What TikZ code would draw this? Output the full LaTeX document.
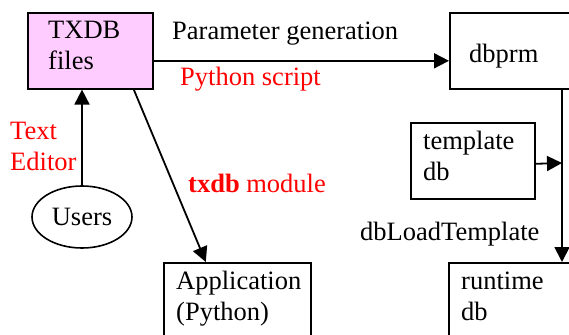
\documentclass[tikz,border=0pt]{standalone}
\usepackage{fontspec}
\setmainfont{Liberation Serif}
\usetikzlibrary{arrows.meta,shapes.geometric}
\definecolor{txpink}{RGB}{255,204,255}
\tikzset{
  box/.style={draw,line width=1.6pt,anchor=north west,inner sep=0pt},
  txt/.style={anchor=base west,align=left,inner sep=0pt},
  note/.style={txt,text=red},
  link/.style={->,line width=1.8pt},
}
\begin{document}
\begin{tikzpicture}[x=1pt,y=-1pt,>={Triangle[length=15pt,width=15pt]},font=\fontsize{26.5}{31}\selectfont]
\useasboundingbox (0,0) rectangle (569,334);
\clip (0,0) rectangle (569,334);
\node[box,fill=txpink,minimum width=125pt,minimum height=76pt] (txdb) at (27,12) {};
\node[box,minimum width=200pt,minimum height=76pt] (dbprm) at (449,12) {};
\node[box,minimum width=124pt,minimum height=76pt] (tmpl) at (410,122) {};
\node[box,minimum width=200pt,minimum height=100pt] (runtime) at (448,262) {};
\node[box,minimum width=147pt,minimum height=100pt] (app) at (163,262) {};
\node[draw,ellipse,line width=1.6pt,minimum width=100pt,minimum height=62pt,inner sep=0pt] (users) at (82,217) {Users};
\node[txt] (txdbtext) at (48,70) {TXDB\\files};
\node[txt] (prmtext) at (469,63) {dbprm};
\node[txt] (tmpltext) at (423,180) {template\\db};
\node[txt] (rttext) at (461,320) {runtime\\db};
\node[txt] (apptext) at (176,320) {Application\\(Python)};
\node[txt] (gen) at (172,40) {Parameter generation};
\node[note] (script) at (180,85) {Python script};
\node[note] (editor) at (10,170) {Text\\Editor};
\node[note] (module) at (188,192) {\textbf{txdb} module};
\node[txt] (loadtmpl) at (360,240) {dbLoadTemplate};
\coordinate (join) at (562,163);
\draw[link] (users.north) -- (users.north |- txdb.south);
\draw[link] ([yshift=-10pt]txdb.east) -- ([yshift=-10pt]txdb.east -| dbprm.west);
\draw[link] ([xshift=43.5pt]txdb.south) -- ([xshift=-31.5pt]app.north);
\draw[link] (dbprm.south -| join) -- (runtime.north -| join);
\draw[link] ([yshift=-3pt]tmpl.east) -- (join);
\end{tikzpicture}
\end{document}
